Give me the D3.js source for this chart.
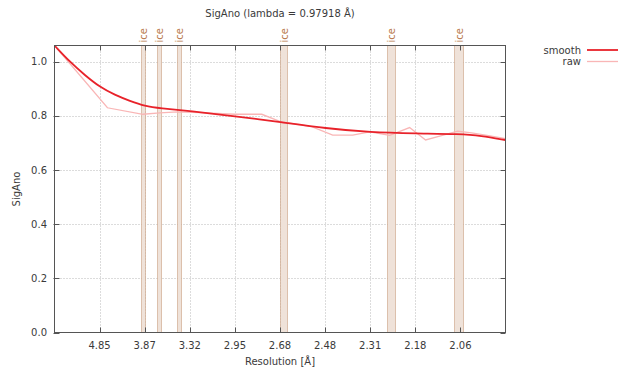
<!DOCTYPE html>
<html>
<head>
<meta charset="utf-8">
<script src="https://cdn.jsdelivr.net/npm/d3@7"></script>
<style>
  html, body { margin: 0; padding: 0; background: #fff; }
  svg { display: block; }
  text { font-family: "DejaVu Sans", sans-serif; fill: #3a3a3a; }
</style>
</head>
<body>
<svg id="chart" width="624" height="372"></svg>
<script>
// ---- data (x values are 1/d^2 in 1/Å^2) ----
const titleText = "SigAno (lambda = 0.97918 Å)";
const xLabel = "Resolution [Å]";
const yLabel = "SigAno";

const xDomain = [0.01845, 0.25945];
const yDomain = [0, 1.06];

const xTickQ = [0.04255, 0.06665, 0.09075, 0.11485, 0.13895, 0.16305, 0.18715, 0.21125, 0.23535];
const xTickLabels = ["4.85", "3.87", "3.32", "2.95", "2.68", "2.48", "2.31", "2.18", "2.06"];
const yTicks = [0.0, 0.2, 0.4, 0.6, 0.8, 1.0];

const rawQ = [0.01845, 0.04674, 0.06569, 0.07476, 0.08437, 0.09612, 0.11480, 0.12921, 0.13882,
              0.14736, 0.15590, 0.16711, 0.17779, 0.18686, 0.19754, 0.20821, 0.21675, 0.22476,
              0.23383, 0.24131, 0.25038, 0.25945];
const rawValues = [1.060, 0.830, 0.806, 0.811, 0.815, 0.812, 0.806, 0.806, 0.780,
                   0.770, 0.760, 0.729, 0.729, 0.741, 0.728, 0.757, 0.711, 0.726,
                   0.744, 0.737, 0.727, 0.716];

const smoothQ = [0.01845, 0.02672, 0.03473, 0.04252, 0.05074, 0.05875, 0.06676, 0.07476,
                 0.09078, 0.11480, 0.13935, 0.16337, 0.18739, 0.21141, 0.23543, 0.24611, 0.25945];
const smoothValues = [1.060, 0.999, 0.950, 0.907, 0.877, 0.855, 0.836, 0.828,
                      0.818, 0.799, 0.777, 0.754, 0.739, 0.735, 0.733, 0.727, 0.711];

// ice rings: [low-res edge, high-res edge] in Å
const iceRingsD = [[3.939, 3.866], [3.693, 3.640], [3.457, 3.414],
                   [2.684, 2.647], [2.258, 2.233], [2.077, 2.056]];
const iceLabel = "ice";

const seriesNames = ["smooth", "raw"];
const seriesColors = ["#e8222a", "#f9b6b6"];

// ---- drawing ----
const svg = d3.select("#chart");
const L = 54.5, R = 505.5, T = 45.5, B = 332.5;
const x = d3.scaleLinear().domain(xDomain).range([L, R]);
const y = d3.scaleLinear().domain(yDomain).range([B, T]);

// grid
const grid = svg.append("g");
grid.selectAll("line.gx").data(xTickQ).join("line")
  .attr("x1", d => Math.round(x(d)) + 0.5).attr("x2", d => Math.round(x(d)) + 0.5)
  .attr("y1", T).attr("y2", B)
  .attr("stroke", "#b8b8b8").attr("stroke-dasharray", "1,2");
grid.selectAll("line.gy").data(yTicks.filter(v => v > 0)).join("line")
  .attr("y1", d => Math.round(y(d)) + 0.5).attr("y2", d => Math.round(y(d)) + 0.5)
  .attr("x1", L).attr("x2", R)
  .attr("stroke", "#b8b8b8").attr("stroke-dasharray", "1,2");

// ice bands
const ice = svg.append("g");
iceRingsD.forEach(([d1, d2]) => {
  const x1 = Math.round(x(1 / (d1 * d1))) + 0.5, x2 = Math.round(x(1 / (d2 * d2))) + 0.5;
  ice.append("rect").attr("x", x1).attr("y", T).attr("width", x2 - x1).attr("height", B - T)
    .attr("fill", "#efe2d9");
  [x1, x2].forEach(xx => {
    ice.append("line").attr("x1", xx).attr("x2", xx).attr("y1", T).attr("y2", B)
      .attr("stroke", "#c0906c").attr("stroke-width", 1).attr("stroke-dasharray", "1,1");
  });
  const cx = (x1 + x2) / 2;
  ice.append("text").attr("transform", `translate(${cx},${T - 3}) rotate(-90)`)
    .attr("dy", "0.35em").attr("text-anchor", "start")
    .style("font-size", "10px").style("fill", "#b8784a").text(iceLabel);
});

// lines
const line = d3.line().x(d => x(d[0])).y(d => y(d[1]));
svg.append("path").datum(rawQ.map((q, i) => [q, rawValues[i]]))
  .attr("d", line).attr("fill", "none").attr("stroke", seriesColors[1]).attr("stroke-width", 1.3);
svg.append("path").datum(smoothQ.map((q, i) => [q, smoothValues[i]]))
  .attr("d", d3.line().x(d => x(d[0])).y(d => y(d[1])).curve(d3.curveBasis)).attr("fill", "none")
  .attr("stroke", seriesColors[0]).attr("stroke-width", 1.8);

// frame
svg.append("rect").attr("x", L).attr("y", T).attr("width", R - L).attr("height", B - T)
  .attr("fill", "none").attr("stroke", "#555").attr("stroke-width", 1);

// x ticks (bottom + top mirrors)
const axisG = svg.append("g");
xTickQ.forEach((q, i) => {
  const xx = Math.round(x(q)) + 0.5;
  axisG.append("line").attr("x1", xx).attr("x2", xx).attr("y1", B).attr("y2", B - 5).attr("stroke", "#555");
  axisG.append("line").attr("x1", xx).attr("x2", xx).attr("y1", T).attr("y2", T + 5).attr("stroke", "#555");
  axisG.append("text").attr("x", x(q)).attr("y", 349).attr("text-anchor", "middle")
    .style("font-size", "10px").text(xTickLabels[i]);
});
yTicks.forEach(v => {
  const yy = Math.round(y(v)) + 0.5;
  axisG.append("line").attr("x1", L - 1).attr("x2", L + 5).attr("y1", yy).attr("y2", yy).attr("stroke", "#555");
  axisG.append("line").attr("x1", R).attr("x2", R - 5).attr("y1", yy).attr("y2", yy).attr("stroke", "#555");
  axisG.append("text").attr("x", 47).attr("y", y(v)).attr("dy", "0.35em").attr("text-anchor", "end")
    .style("font-size", "10px").text(d3.format(".1f")(v));
});

// labels
svg.append("text").attr("x", (L + R) / 2).attr("y", 17).attr("text-anchor", "middle")
  .style("font-size", "10px").text(titleText);
svg.append("text").attr("x", (L + R) / 2).attr("y", 365).attr("text-anchor", "middle")
  .style("font-size", "10px").text(xLabel);
svg.append("text").attr("transform", `translate(20,${(T + B) / 2}) rotate(-90)`)
  .attr("text-anchor", "middle").style("font-size", "10px").text(yLabel);

// legend
seriesNames.forEach((name, i) => {
  const yy = 50 + i * 11.5;
  svg.append("text").attr("x", 581).attr("y", yy).attr("dy", "0.35em").attr("text-anchor", "end")
    .style("font-size", "10px").text(name);
  svg.append("line").attr("x1", 587).attr("x2", 618).attr("y1", yy).attr("y2", yy)
    .attr("stroke", seriesColors[i]).attr("stroke-width", i === 0 ? 1.8 : 1.3);
});
</script>
</body>
</html>
